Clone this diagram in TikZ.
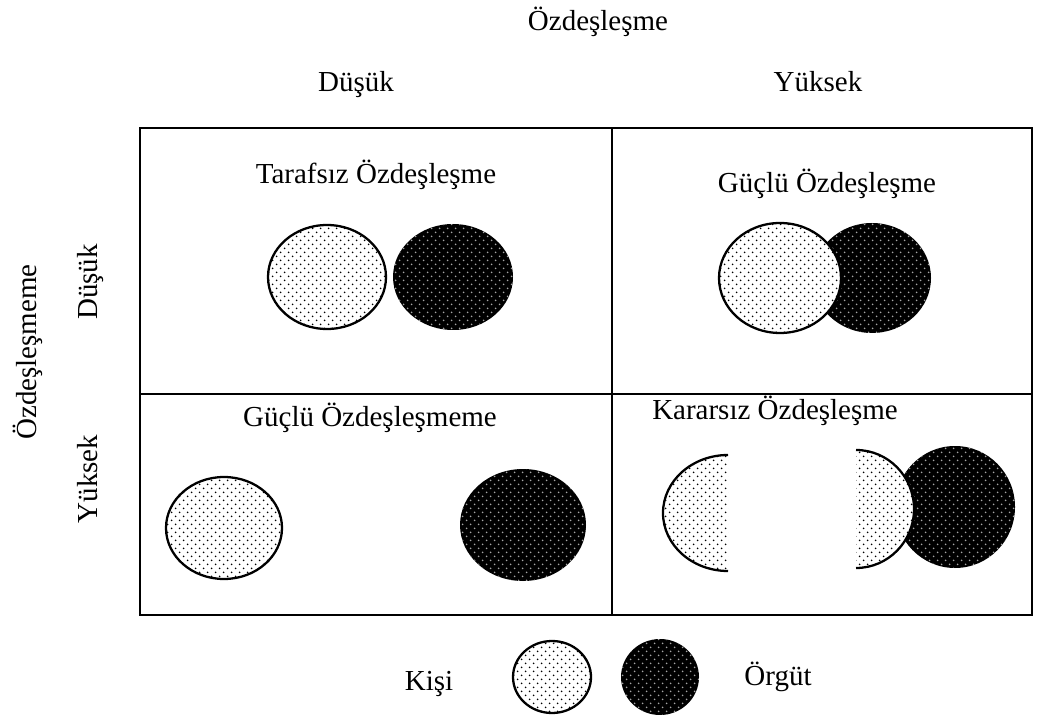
\documentclass[tikz,border=0pt]{standalone}
\usepackage{fontspec}
\setmainfont{Liberation Serif}
\usetikzlibrary{patterns}
\pgfdeclarepatternformonly{kdots}{\pgfqpoint{-1pt}{-1pt}}{\pgfqpoint{3.8pt}{3.8pt}}{\pgfqpoint{4.8pt}{4.8pt}}{%
  \pgfpathcircle{\pgfqpoint{0pt}{0pt}}{.55pt}
  \pgfpathcircle{\pgfqpoint{2.4pt}{2.4pt}}{.55pt}
  \pgfusepath{fill}}

\begin{document}
\begin{tikzpicture}[x=0.02cm,y=0.02cm,
  lbl/.style={font=\fontsize{16.5}{20}\selectfont,anchor=base,inner sep=0pt},
  kisi/.style={preaction={fill=white},pattern=kdots,pattern color=black,draw=black,line width=1.3pt},
  orgut/.style={preaction={fill=black},pattern=kdots,pattern color=gray!70}]
\useasboundingbox (0,0) rectangle (1060,-715);
% matrix
\draw[line width=0.7pt] (140,-128) rectangle (1032,-615);
\draw[line width=0.7pt] (612,-128) -- (612,-615);
\draw[line width=0.7pt] (140,-394) -- (1032,-394);
% axis labels
\node[lbl] (ozd) at (598,-31) {Özdeşleşme};
\node[lbl] (ozdDus) at (356,-92) {Düşük};
\node[lbl] (ozdYuk) at (818,-92) {Yüksek};
\node[lbl,rotate=90] (ozdm) at (36,-352) {Özdeşleşmeme};
\node[lbl,rotate=90] (ozdmDus) at (97,-282) {Düşük};
\node[lbl,rotate=90] (ozdmYuk) at (97,-479) {Yüksek};
% cells
\node[lbl] (taraf) at (376,-184) {Tarafsız Özdeşleşme};
\node[lbl] (guclu) at (827,-193) {Güçlü Özdeşleşme};
\node[lbl] (gucluM) at (370,-427) {Güçlü Özdeşleşmeme};
\node[lbl] (karar) at (775,-419) {Kararsız Özdeşleşme};
\path[kisi] (327,-277) ellipse (59 and 52);
\path[orgut] (453,-277) ellipse (60 and 53);
\path[orgut] (872,-278) ellipse (59 and 55);
\path[kisi] (780,-278) ellipse (61 and 55);
\path[kisi] (224,-528) ellipse (58 and 51);
\path[orgut] (523,-525) ellipse (63 and 56);
\path[kisi] (728,-455) arc[start angle=90,end angle=270,x radius=65,y radius=58];
\path[orgut] (955,-507) ellipse (60 and 61);
\path[kisi] (856,-568) arc[start angle=-90,end angle=90,x radius=58,y radius=59];
% legend
\node[lbl] (kisiL) at (429,-690) {Kişi};
\path[kisi] (552,-677) ellipse (39 and 36);
\path[orgut] (660,-677) ellipse (39 and 38);
\node[lbl] (orgutL) at (778,-685) {Örgüt};
\end{tikzpicture}
\end{document}
